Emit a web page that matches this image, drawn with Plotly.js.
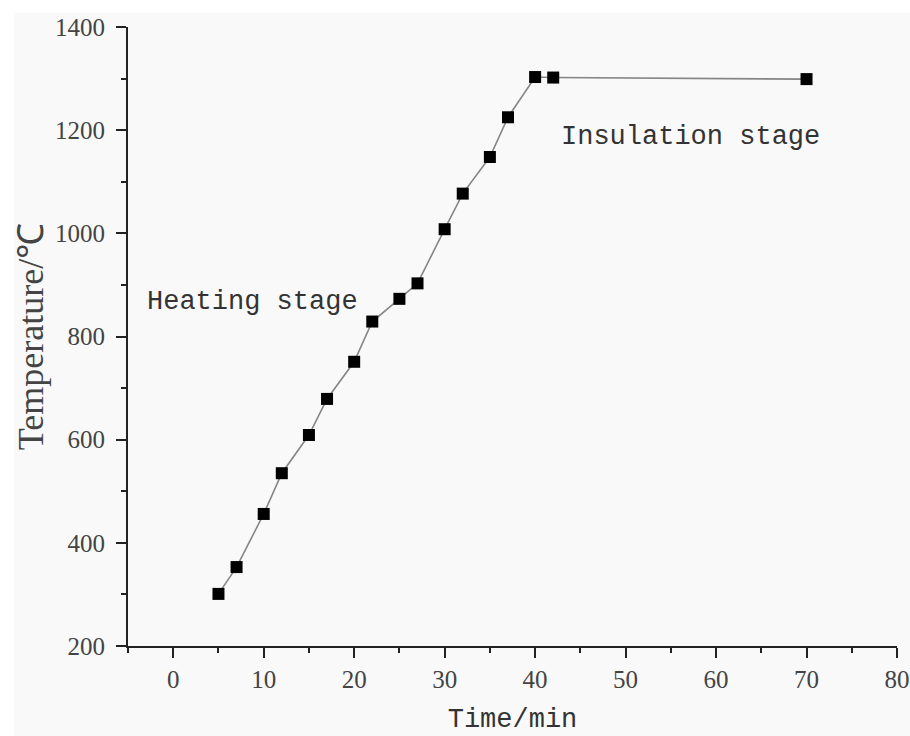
<!DOCTYPE html>
<html>
<head>
<meta charset="utf-8">
<script src="https://cdn.plot.ly/plotly-3.0.1.min.js"></script>
<style>html,body{margin:0;padding:0;background:#fff;}#chart{width:910px;height:736px;}</style>
</head>
<body>
<div id="chart"></div>
<script>
const timeMin = [5, 7, 10, 12, 15, 17, 20, 22, 25, 27, 30, 32, 35, 37, 40, 42, 70];
const temperature = [301, 353, 456, 535, 609, 679, 751, 829, 873, 903, 1008, 1077, 1148, 1225, 1303, 1302, 1299];
const xTicks = [0, 10, 20, 30, 40, 50, 60, 70, 80];
const yTicks = [200, 400, 600, 800, 1000, 1200, 1400];
const labelHeating = "Heating stage";
const labelInsulation = "Insulation stage";

const trace = {
  x: timeMin,
  y: temperature,
  type: 'scatter',
  mode: 'lines+markers',
  line: {color: '#858585', width: 1.6},
  marker: {symbol: 'square', size: 12, color: '#000000'},
  cliponaxis: false,
  showlegend: false,
  hoverinfo: 'skip'
};

const monoFont = {family: 'Liberation Mono, monospace', size: 27, color: '#333333'};
const serifFont = {family: 'Liberation Serif, serif', size: 25, color: '#444444'};

const layout = {
  width: 910, height: 736,
  margin: {l: 128, r: 13, t: 26.5, b: 89.5},
  paper_bgcolor: '#ffffff',
  plot_bgcolor: 'rgba(0,0,0,0)',
  showlegend: false,
  xaxis: {
    range: [-5, 80],
    tickvals: xTicks,
    ticktext: xTicks.map(String),
    ticks: 'outside', ticklen: 10, tickwidth: 2, tickcolor: '#222',
    minor: {dtick: 5, tick0: 0, ticks: 'outside', ticklen: 5, tickwidth: 2, tickcolor: '#222', showgrid: false},
    showline: true, linecolor: '#222', linewidth: 2,
    showgrid: false, zeroline: false,
    tickfont: serifFont,
    title: {text: 'Time/min', font: monoFont, standoff: 16}
  },
  yaxis: {
    range: [200, 1400],
    tickvals: yTicks,
    ticktext: yTicks.map(String),
    ticks: 'outside', ticklen: 10, tickwidth: 2, tickcolor: '#222',
    ticklabelstandoff: 6,
    minor: {dtick: 100, tick0: 0, ticks: 'outside', ticklen: 5, tickwidth: 2, tickcolor: '#222', showgrid: false},
    showline: true, linecolor: '#222', linewidth: 2,
    showgrid: false, zeroline: false,
    tickfont: serifFont,
    title: {text: 'Temperature/℃', font: {family: 'Liberation Serif, serif', size: 36, color: '#444444'}, standoff: 0}
  },
  shapes: [{
    type: 'rect', xref: 'paper', yref: 'paper', layer: 'below',
    x0: -0.148, x1: 1.02, y0: -0.15, y1: 1.0234,
    fillcolor: '#f9f9f9', line: {width: 0}
  }],
  annotations: [
    {x: 8.76, y: 867, xref: 'x', yref: 'y', text: labelHeating, showarrow: false, font: monoFont, xanchor: 'center', yanchor: 'middle'},
    {x: 57.2, y: 1186, xref: 'x', yref: 'y', text: labelInsulation, showarrow: false, font: monoFont, xanchor: 'center', yanchor: 'middle'}
  ]
};

Plotly.newPlot('chart', [trace], layout, {displayModeBar: false, staticPlot: true});
</script>
</body>
</html>
